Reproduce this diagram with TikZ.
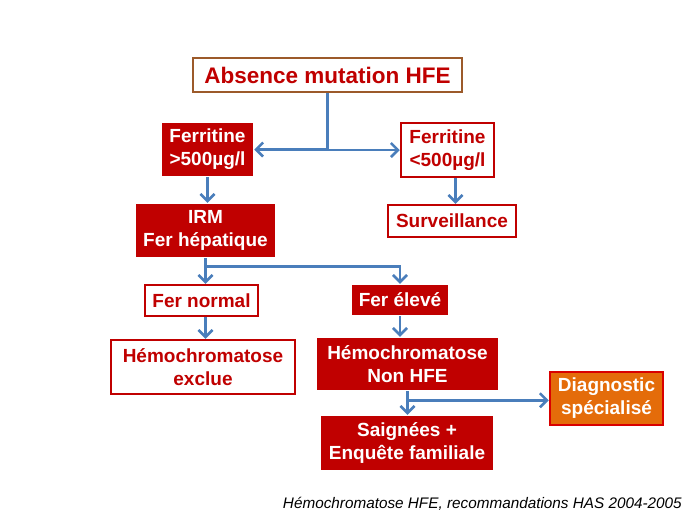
\documentclass[tikz,border=0pt]{standalone}
\usepackage{fontspec}
\setmainfont{Liberation Sans}
\usetikzlibrary{arrows.meta,calc}
\definecolor{hred}{HTML}{C00000}
\definecolor{hbrown}{HTML}{9C5A2A}
\definecolor{horange}{HTML}{E46C0A}
\definecolor{hblue}{HTML}{4A7EBB}
\begin{document}
\begin{tikzpicture}[x=1pt,y=-1pt,
  base/.style={inner sep=0pt,align=center,font=\fontsize{19}{23}\selectfont\bfseries,line width=2.5pt},
  fillbox/.style={base,fill=hred,text=white},
  openbox/.style={base,draw=hred,fill=white,text=hred},
  arr/.style={draw=hblue,line width=2.5pt,-{Straight Barb[length=7pt,width=14pt]}}]
\useasboundingbox (0,0) rectangle (689,517);
\node[base,draw=hbrown,fill=white,text=hred,minimum width=269,minimum height=34,font=\fontsize{22.5}{26}\selectfont\bfseries] (abs) at (327.5,75) {Absence mutation HFE};
\node[fillbox,minimum width=91,minimum height=53] (f1) at (207.5,149.5) {Ferritine\\>500µg/l};
\node[openbox,minimum width=93,minimum height=54] (f2) at (447.5,150) {Ferritine\\<500µg/l};
\node[openbox,minimum width=128,minimum height=32] (surv) at (452,221) {Surveillance};
\node[fillbox,minimum width=139,minimum height=53] (irm) at (205.5,230.5) {IRM\\Fer hépatique};
\node[openbox,minimum width=113,minimum height=31] (fn) at (201.5,300.5) {Fer normal};
\node[fillbox,minimum width=96,minimum height=30] (fe) at (400,300) {Fer élevé};
\node[openbox,minimum width=184,minimum height=54] (hex) at (203,367) {Hémochromatose\\exclue};
\node[fillbox,minimum width=181,minimum height=52] (hnon) at (407.5,364) {Hémochromatose\\Non HFE};
\node[base,draw=red!85!black,fill=horange,text=white,minimum width=113,minimum height=53] (diag) at (606.5,398.5) {Diagnostic\\spécialisé};
\node[fillbox,minimum width=172,minimum height=54] (saig) at (407,443) {Saignées +\\Enquête familiale};
\node[anchor=east,font=\fontsize{15.3}{18}\selectfont\itshape,inner sep=0pt] (cap) at (682,504) {Hémochromatose HFE, recommandations HAS 2004-2005};
% connectors
\draw[arr] (abs.south) |- (f1.east);
\draw[arr] (abs.south) |- (f2.west);
\draw[arr] ([xshift=8]f2.south) -- ([xshift=8]f2.south |- surv.north);
\draw[arr] (f1.south) -- (f1.south |- irm.north);
\draw[arr] (irm.south) -- (irm.south |- fn.north);
\coordinate (j2) at ($(irm.south)+(0,8)$);
\draw[arr] (j2) -| (fe.north);
\draw[arr] (irm.south |- fn.south) -- (irm.south |- hex.north);
\draw[arr] (fe.south) -- (fe.south |- hnon.north);
\draw[arr] (hnon.south) -- (hnon.south |- saig.north);
\coordinate (j3) at ($(hnon.south)+(0,9)$);
\draw[arr] (j3) -- (j3 -| diag.west);
\end{tikzpicture}
\end{document}
